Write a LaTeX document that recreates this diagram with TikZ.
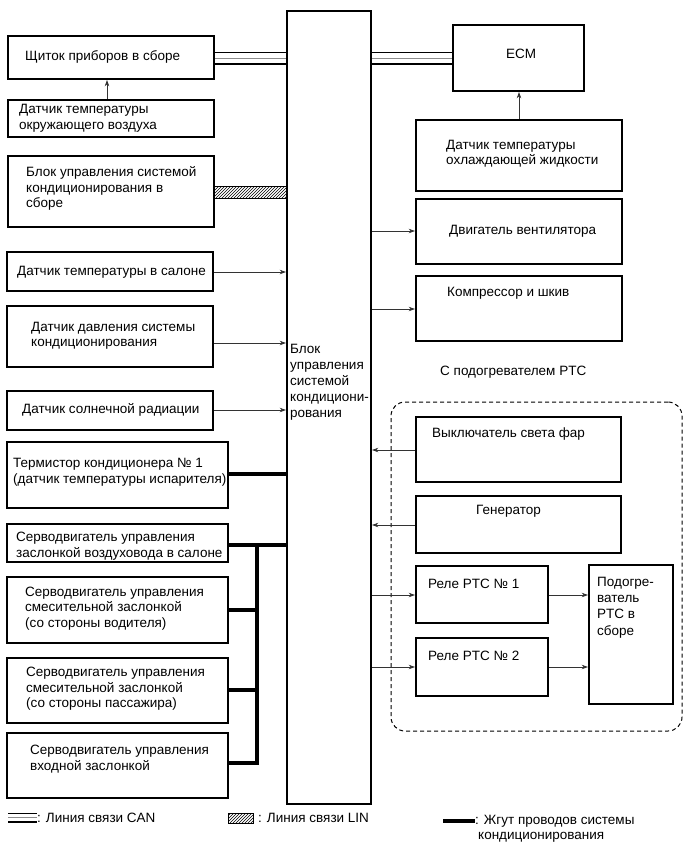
\documentclass[tikz,border=0pt]{standalone}
\usepackage{fontspec}
\setmainfont{Liberation Sans}
\usetikzlibrary{arrows.meta,patterns,calc}
\newcommand\bx[6][]{\node[box,#1,minimum width={(#5-#3)*1pt},minimum height={(#6-#4)*1pt}] (#2) at ({(#3+#5)/2},{(#4+#6)/2}) {};}
\begin{document}
\begin{tikzpicture}[x=1pt,y=-1pt,
  font=\fontsize{13.5}{15.5}\selectfont,
  box/.style={draw,line width=1.8pt,inner sep=0pt,rectangle},
  txt/.style={anchor=west,inner sep=0pt,align=left},
  arr/.style={-{Stealth[length=6.5pt,width=4.5pt]},line width=0.8pt,black!80},
  harn/.style={line width=3.2pt,line join=miter},
  canA/.style={line width=0.9pt},
  canB/.style={line width=0.9pt,black!45},
  canC/.style={line width=1.8pt},
  grp/.style={draw,dashed,dash pattern=on 4pt off 3pt,line width=1pt,rounded corners=14pt,inner sep=0pt}]
\useasboundingbox (0,0) rectangle (691,855);
% boxes
\bx{shch}{8}{36}{214}{79}
\bx{amb}{8}{100}{214}{137}
\bx{acp}{8}{156}{214}{227}
\bx{salon}{7}{252}{213}{291}
\bx{press}{7}{306}{213}{367}
\bx{solar}{7}{391}{213}{430}
\bx{therm}{7}{442}{228}{508}
\bx{serv1}{7}{524}{228}{562}
\bx{serv2}{7}{577}{228}{643}
\bx{serv3}{7}{658}{228}{723}
\bx{serv4}{7}{733}{228}{798}
\bx{ctrl}{287}{11}{371}{804}
\bx{ecm}{453}{25}{584}{91}
\bx{cool}{416}{120}{622}{191}
\bx{fan}{416}{199}{622}{264}
\bx{comp}{416}{276}{622}{341}
\bx{lights}{416}{417}{621}{482}
\bx{gen}{416}{496}{621}{553}
\bx{rel1}{416}{566}{548}{623}
\bx{rel2}{416}{638}{548}{696}
\bx{heat}{589}{565}{673}{704}
\node[grp,minimum width=291pt,minimum height=329pt] (group) at (536.5,566.5) {};
% texts
\node[txt] (tshch) at (25,57) {Щиток приборов в сборе};
\node[txt] (tamb) at (19,118.5) {Датчик температуры\\окружающего воздуха};
\node[txt] (tacp) at (26,188.5) {Блок управления системой\\кондиционирования в\\сборе};
\node[txt] (tsalon) at (17,272) {Датчик температуры в салоне};
\node[txt] (tpress) at (31,336) {Датчик давления системы\\кондиционирования};
\node[txt] (tsolar) at (22,410) {Датчик солнечной радиации};
\node[txt] (ttherm) at (13,472) {Термистор кондиционера № 1\\(датчик температуры испарителя)};
\node[txt] (tserv1) at (16,546) {Серводвигатель управления\\заслонкой воздуховода в салоне};
\node[txt] (tserv2) at (25,608.5) {Серводвигатель управления\\смесительной заслонкой\\(со стороны водителя)};
\node[txt] (tserv3) at (26,689) {Серводвигатель управления\\смесительной заслонкой\\(со стороны пассажира)};
\node[txt] (tserv4) at (30,759) {Серводвигатель управления\\входной заслонкой};
\node[txt,font=\fontsize{13.5}{16}\selectfont] (tctrl) at (290,382.5) {Блок\\управления\\системой\\кондициони-\\рования};
\node[inner sep=0pt] (tecm) at (521,54) {ECM};
\node[txt] (tcool) at (446,153.5) {Датчик температуры\\охлаждающей жидкости};
\node[txt] (tfan) at (449,231) {Двигатель вентилятора};
\node[txt] (tcomp) at (447,293) {Компрессор и шкив};
\node[txt] (tptc) at (440,372) {С подогревателем PTC};
\node[txt] (tlights) at (432,434) {Выключатель света фар};
\node[txt] (tgen) at (476,511) {Генератор};
\node[txt] (trel1) at (428,584) {Реле PTC № 1};
\node[txt] (trel2) at (428,656) {Реле PTC № 2};
\node[txt,font=\fontsize{13.5}{16.3}\selectfont] (theat) at (597,607.5) {Подогре-\\ватель\\PTC в\\сборе};
% CAN lines
\foreach \a/\b in {shch/ctrl,ctrl/ecm}{
  \draw[canA] (\a.east |- 0,52) -- (\b.west |- 0,52);
  \draw[canB] (\a.east |- 0,58) -- (\b.west |- 0,58);
  \draw[canC] (\a.east |- 0,64) -- (\b.west |- 0,64);
}
% LIN
\draw[line width=0.9pt,pattern=north east lines] (acp.east |- 0,186) rectangle (ctrl.west |- 0,198);
% arrows
\draw[arr] (amb.north -| 107,0) -- (shch.south -| 107,0);
\draw[arr] (cool.north) -- (cool.north |- ecm.south);
\draw[arr] (salon.east |- 0,272) -- (ctrl.west |- 0,272);
\draw[arr] (press.east |- 0,343) -- (ctrl.west |- 0,343);
\draw[arr] (solar.east |- 0,410) -- (ctrl.west |- 0,410);
\draw[arr] (ctrl.east |- 0,231) -- (fan.west |- 0,231);
\draw[arr] (ctrl.east |- 0,309) -- (comp.west |- 0,309);
\draw[arr] (lights.west |- 0,450) -- (ctrl.east |- 0,450);
\draw[arr] (gen.west |- 0,525) -- (ctrl.east |- 0,525);
\draw[arr] (ctrl.east |- 0,595) -- (rel1.west |- 0,595);
\draw[arr] (ctrl.east |- 0,667) -- (rel2.west |- 0,667);
\draw[arr] (rel1.east |- 0,595) -- (heat.west |- 0,595);
\draw[arr] (rel2.east |- 0,667) -- (heat.west |- 0,667);
% harness
\coordinate (busT) at (257,545);
\coordinate (busB) at (257,763);
\draw[harn] (therm.east |- 0,474) -- (ctrl.west |- 0,474);
\draw[harn] (serv1.east |- busT) -- (ctrl.west |- busT);
\draw[harn] (serv4.east |- busB) -| (busT);
\draw[harn] (serv2.east |- 0,610) -- (busT |- 0,610);
\draw[harn] (serv3.east |- 0,690) -- (busT |- 0,690);
% legend
\draw[canA] (8,813) -- (37,813);
\draw[canB] (8,817.5) -- (37,817.5);
\draw[canC] (8,822) -- (37,822);
\node[txt] (lcan) at (37,818) {: Линия связи CAN};
\draw[line width=0.9pt,pattern=north east lines] (228,813) rectangle (253,823);
\node[txt] (llin) at (258,818) {: Линия связи LIN};
\draw[harn] (443,821) -- (475,821);
\node[txt] (lharn) at (475,828.5) {: Жгут проводов системы\\\hspace{3pt}кондиционирования};
\end{tikzpicture}
\end{document}
